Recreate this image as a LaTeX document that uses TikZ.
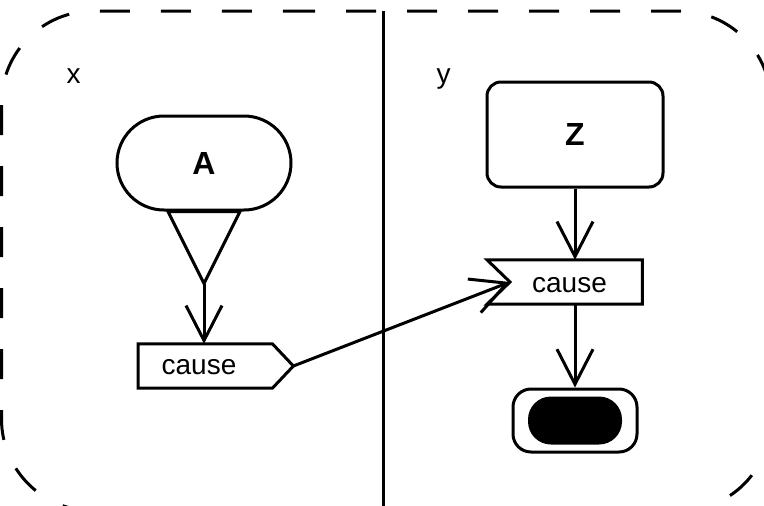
\documentclass[tikz,border=0pt]{standalone}
\usepackage{fontspec}
\setmainfont{Liberation Sans}
\usetikzlibrary{arrows.meta}
\begin{document}
\begin{tikzpicture}[x=1pt,y=-1pt,
  lw/.style={line width=3pt},
  box/.style={draw,lw,inner sep=0pt,fill=white},
  lbl/.style={font=\fontsize{28}{32}\selectfont,inner sep=0pt},
  blbl/.style={font=\fontsize{32}{36}\selectfont\bfseries},
  arr/.style={lw,-{Straight Barb[length=35pt,width=36pt]}},
]
\useasboundingbox (0,0) rectangle (764,506);
\begin{scope}
\clip (0,0) rectangle (764,506);
\draw[lw,dash pattern=on 30pt off 31pt,dash phase=7pt,rounded corners=92pt]
  (200,11) -- (771,11) -- (771,511) -- (1.5,511) -- (1.5,11) -- cycle;
\draw[lw] (383,11) -- (383,511);
\end{scope}

% lane labels
\node[lbl,anchor=base] (lx) at (73.5,83.3) {x};
\node[lbl,anchor=base] (ly) at (443.7,83.3) {y};

% A with triangle (send-like output)
\node[box,rounded corners=47pt,minimum width=174pt,minimum height=94pt,blbl] (A) at (204,163) {A};
\coordinate (apex) at ([yshift=-72pt]A.south);
\draw[lw,fill=white] ([xshift=-36pt]A.south) -- ([xshift=36pt]A.south) -- (apex) -- cycle;

% send signal
\node[inner sep=0pt,minimum width=134pt,minimum height=44pt,anchor=west] (send) at (138,366) {};
\coordinate (sendtip) at ([xshift=21pt]send.east);
\draw[lw,fill=white] (send.north west) -- (send.north east) -- (sendtip) -- (send.south east) -- (send.south west) -- cycle;
\node[lbl] (sendtxt) at (199,367) {cause};
\coordinate (sendtop) at (send.north -| apex);

% Z
\node[box,rounded corners=14pt,minimum width=176pt,minimum height=105pt,blbl] (Z) at (575,134.5) {Z};

% accept event
\node[inner sep=0pt,minimum width=155pt,minimum height=44pt,anchor=west] (recv) at (487,282) {};
\coordinate (notch) at ([xshift=23pt]recv.west);
\draw[lw,fill=white] (recv.north west) -- (recv.north east) -- (recv.south east) -- (recv.south west) -- (notch) -- cycle;
\node[lbl] (recvtxt) at (569.5,285) {cause};
\coordinate (recvtop) at (recv.north -| Z.south);
\coordinate (recvbot) at (recv.south -| Z.south);

% final node
\node[box,rounded corners=18pt,minimum width=124pt,minimum height=63pt] (final) at (575,420.5) {};
\node[fill=black,rounded corners=23pt,minimum width=94pt,minimum height=48pt,inner sep=0pt] (finalin) at (final.center) {};

% connectors
\draw[arr] (apex) -- (sendtop);
\draw[arr] (sendtip) -- (notch);
\draw[arr] (Z.south) -- (recvtop);
\draw[arr] (recvbot) -- (final.north);
\end{tikzpicture}
\end{document}
